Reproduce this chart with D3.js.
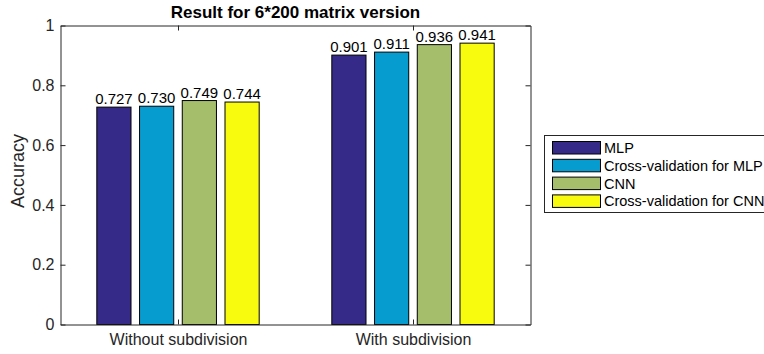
<!DOCTYPE html>
<html><head><meta charset="utf-8">
<script src="https://cdn.jsdelivr.net/npm/d3@7"></script>
<style>body{margin:0;background:#fff}svg{display:block}text{font-family:"Liberation Sans",Arial,sans-serif}</style>
</head><body><svg id="c" width="764" height="354"></svg>
<script>
const categories = ["Without subdivision", "With subdivision"];
const seriesNames = ["MLP", "Cross-validation for MLP", "CNN", "Cross-validation for CNN"];
const seriesColors = ["#352a87", "#079ccf", "#a5be6b", "#f9fb0e"];
const mlp = [0.727, 0.901];
const cvMlp = [0.730, 0.911];
const cnn = [0.749, 0.936];
const cvCnn = [0.744, 0.941];
const valueLabels = [["0.727","0.901"],["0.730","0.911"],["0.749","0.936"],["0.744","0.941"]];
const yTicks = [0, 0.2, 0.4, 0.6, 0.8, 1];
const yTickLabels = ["0","0.2","0.4","0.6","0.8","1"];
const series = [mlp, cvMlp, cnn, cvCnn];

const svg = d3.select("#c");
const L = 60.5, R = 530.5, T = 25.5, B = 324.5;
const x = d3.scaleLinear().domain([0.5, 2.5]).range([L, R]);
const y = d3.scaleLinear().domain([0, 1]).range([B, T]);
const groupW = Math.min(0.8, 4 / (4 + 1.5));
const step = groupW / 4;
const barW = step * 0.8;
const axisCol = "#262626";

// bars
series.forEach((s, si) => {
  s.forEach((v, ci) => {
    const c = ci + 1 - groupW / 2 + step * (si + 0.5);
    const x0 = x(c - barW / 2), x1 = x(c + barW / 2);
    svg.append("rect").attr("x", x0).attr("y", y(v)).attr("width", x1 - x0).attr("height", y(0) - y(v))
      .attr("fill", seriesColors[si]).attr("stroke", "#000").attr("stroke-width", 1);
    svg.append("text").attr("x", x(c)).attr("y", y(v) - 3).attr("text-anchor", "middle")
      .attr("font-size", 15).attr("fill", "#000").text(valueLabels[si][ci]);
  });
});

// axes
const gl = svg.append("g").attr("transform", `translate(${L},0)`)
  .call(d3.axisLeft(y).tickValues(yTicks).tickFormat((d, i) => yTickLabels[i]).tickSizeInner(-5).tickSizeOuter(0).tickPadding(6));
const gr = svg.append("g").attr("transform", `translate(${R},0)`)
  .call(d3.axisRight(y).tickValues(yTicks).tickFormat("").tickSizeInner(-5).tickSizeOuter(0));
const gb = svg.append("g").attr("transform", `translate(0,${B})`)
  .call(d3.axisBottom(x).tickValues([1, 2]).tickFormat((d) => categories[d - 1]).tickSizeInner(-5).tickSizeOuter(0).tickPadding(9));
const gt = svg.append("g").attr("transform", `translate(0,${T})`)
  .call(d3.axisTop(x).tickValues([1, 2]).tickFormat("").tickSizeInner(-5).tickSizeOuter(0));
[gl, gr, gb, gt].forEach(g => {
  g.selectAll("path").attr("stroke", axisCol).attr("stroke-width", 1);
  g.selectAll("line").attr("stroke", axisCol);
  g.selectAll("text").attr("font-family", "Liberation Sans, Arial, sans-serif").attr("fill", axisCol);
});
gl.selectAll("text").attr("font-size", 16);
gb.selectAll("text").attr("font-size", 16);

// y label
svg.append("text").attr("transform", `translate(24,171) rotate(-90)`).attr("text-anchor", "middle")
  .attr("font-size", 18).attr("fill", axisCol).text("Accuracy");

// title
svg.append("text").attr("x", (L + R) / 2).attr("y", 18).attr("text-anchor", "middle")
  .attr("font-size", 17).attr("font-weight", "bold").attr("fill", "#000").text("Result for 6*200 matrix version");

// legend
const lg = svg.append("g");
lg.append("rect").attr("x", 544.5).attr("y", 135.5).attr("width", 230).attr("height", 77)
  .attr("fill", "#fff").attr("stroke", axisCol).attr("stroke-width", 1);
seriesNames.forEach((n, i) => {
  const yy = 141.5 + i * 17.8;
  lg.append("rect").attr("x", 552.5).attr("y", yy).attr("width", 48).attr("height", 12.5)
    .attr("fill", seriesColors[i]).attr("stroke", "#000").attr("stroke-width", 1);
  lg.append("text").attr("x", 604).attr("y", yy + 11.5).attr("font-size", 14.5).attr("fill", "#000").text(n);
});
</script></body></html>
